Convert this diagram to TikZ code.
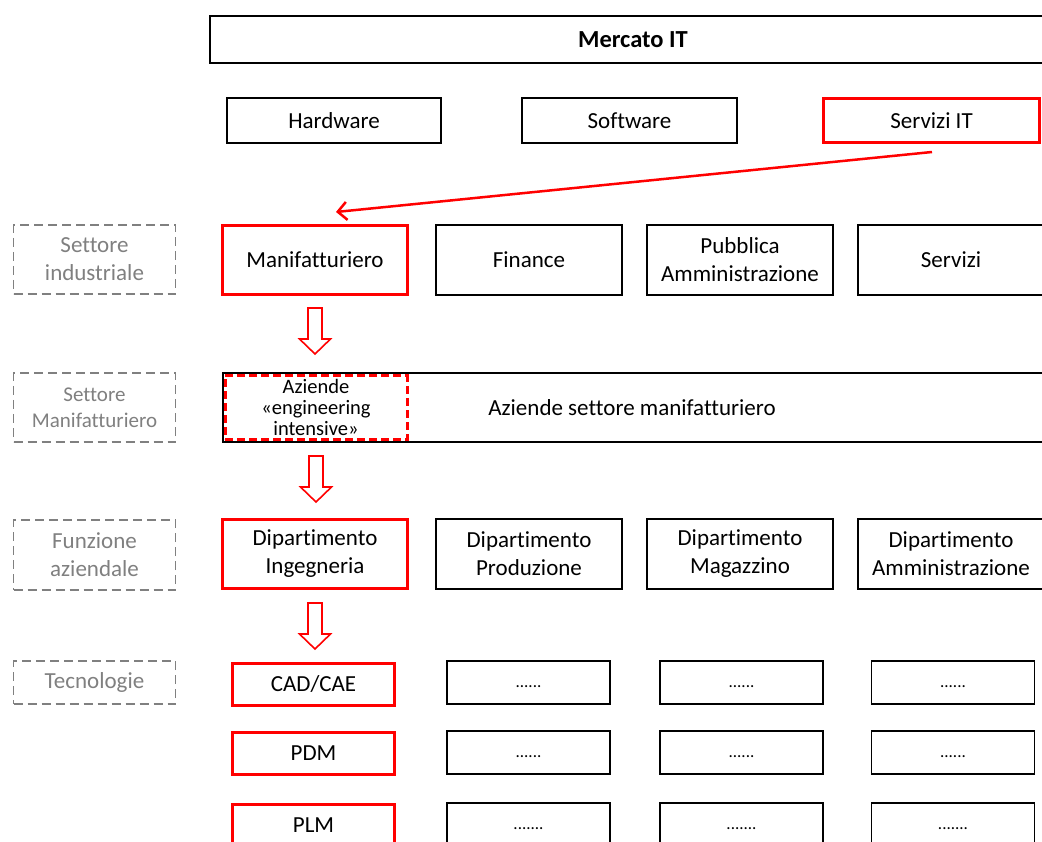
\documentclass[tikz,border=0pt]{standalone}
\usepackage{fontspec}
\setmainfont{Carlito}[Ligatures={NoCommon}]
\usetikzlibrary{arrows.meta,calc}
\definecolor{lblgray}{RGB}{128,128,128}
\definecolor{myred}{RGB}{255,0,0}
\begin{document}
\begin{tikzpicture}[x=1pt,y=-1pt,
  base/.style={rectangle, inner sep=0pt, align=center, font=\fontsize{23}{28}\selectfont},
  bbox/.style={base, draw=black, line width=1.6pt},
  rbox/.style={base, draw=myred, line width=3pt},
  gbox/.style={base, draw=lblgray, line width=1.6pt, dash pattern=on 9pt off 5pt, text=lblgray, minimum width=162pt},
  dotbox/.style={base, draw=black, line width=1.6pt, minimum width=163pt, minimum height=43pt, font=\fontsize{17}{18}\selectfont},
  pics/downarrow/.style={code={\draw[myred, line width=1.6pt, fill=white] (-7,0) -- (7,0) -- (7,31) -- (15.5,31) -- (0,46) -- (-15.5,31) -- (-7,31) -- cycle;}}
]
\useasboundingbox (0,0) rectangle (1042,842);
\fill[white] (0,0) rectangle (1042,842);
\clip (0,0) rectangle (1042,842);

% top
\node[bbox, minimum width=846pt, minimum height=47pt, font=\fontsize{24.5}{28}\selectfont\bfseries] (mercato) at (633,39.5) {Mercato IT};
\node[bbox, minimum width=214pt, minimum height=45pt] (hw) at (334,120.5) {Hardware};
\node[bbox, minimum width=215pt, minimum height=45pt] (sw) at (629.5,120.5) {Software};
\node[rbox, minimum width=216pt, minimum height=44pt] (srv) at (931.5,120.5) {Servizi IT};

% row settore industriale
\node[gbox, minimum height=69pt] (lab1) at (94.5,259.5) {Settore\\industriale};
\node[rbox, minimum width=185pt, minimum height=69pt] (man) at (315,260) {Manifatturiero};
\node[bbox, minimum width=186pt, minimum height=70pt] (fin) at (529,260) {Finance};
\node[bbox, minimum width=186pt, minimum height=70pt] (pa) at (740,260) {Pubblica\\Amministrazione};
\node[bbox, minimum width=186pt, minimum height=70pt] (serv) at (951,260) {Servizi};

% row settore manifatturiero
\node[gbox, minimum height=69pt, font=\fontsize{21}{26}\selectfont] (lab2) at (94.5,407.5) {Settore\\Manifatturiero};
\node[bbox, minimum width=840pt, minimum height=69pt, anchor=west] (az) at (222,407.5) {};
\node[base] (aztxt) at (632,407.5) {Aziende settore manifatturiero};
\node[rbox, dash pattern=on 8pt off 4pt, minimum width=182pt, minimum height=64pt, font=\fontsize{20.5}{21}\selectfont] (eng) at (316,407.5) {Aziende\\«engineering\\intensive»};

% row funzione aziendale
\node[gbox, minimum height=70pt] (lab3) at (94.5,555) {Funzione\\aziendale};
\node[rbox, minimum width=185pt, minimum height=69pt] (ding) at (315,554) {Dipartimento\\Ingegneria};
\node[bbox, minimum width=186pt, minimum height=70pt] (dprod) at (529,554) {Dipartimento\\Produzione};
\node[bbox, minimum width=186pt, minimum height=70pt] (dmag) at (740,554) {Dipartimento\\Magazzino};
\node[bbox, minimum width=186pt, minimum height=70pt] (damm) at (951,554) {Dipartimento\\Amministrazione};

% row tecnologie
\node[gbox, minimum height=43pt] (lab4) at (94.5,682.5) {Tecnologie};
\node[rbox, minimum width=162pt, minimum height=42pt] (cad) at (313.5,684.5) {CAD/CAE};
\node[rbox, minimum width=162pt, minimum height=42pt] (pdm) at (313.5,753.5) {PDM};
\node[rbox, minimum width=162pt, minimum height=42pt] (plm) at (313.5,825.5) {PLM};

\node[dotbox] (d11) at (528.5,682.5) {\vphantom{A}......};
\node[dotbox] (d12) at (741.5,682.5) {\vphantom{A}......};
\node[dotbox] (d13) at (953,682.5) {\vphantom{A}......};
\node[dotbox] (d21) at (528.5,752.5) {\vphantom{A}......};
\node[dotbox] (d22) at (741.5,752.5) {\vphantom{A}......};
\node[dotbox] (d23) at (953,752.5) {\vphantom{A}......};
\node[dotbox] (d31) at (528.5,824.5) {\vphantom{A}.......};
\node[dotbox] (d32) at (741.5,824.5) {\vphantom{A}.......};
\node[dotbox] (d33) at (953,824.5) {\vphantom{A}.......};

% arrows
\coordinate (a0) at ($(srv.south)+(0.5,8)$);
\coordinate (a1) at ($(man.north)+(21,-12)$);
\draw[myred, line width=2.5pt, -{Straight Barb[length=9pt,width=18pt,line width=2.5pt]}] (a0) -- (a1);

\pic at ($(man.south)+(0,12)$) {downarrow};
\pic at ($(eng.south)+(0,15)$) {downarrow};
\pic at ($(ding.south)+(0,13)$) {downarrow};
\end{tikzpicture}
\end{document}
